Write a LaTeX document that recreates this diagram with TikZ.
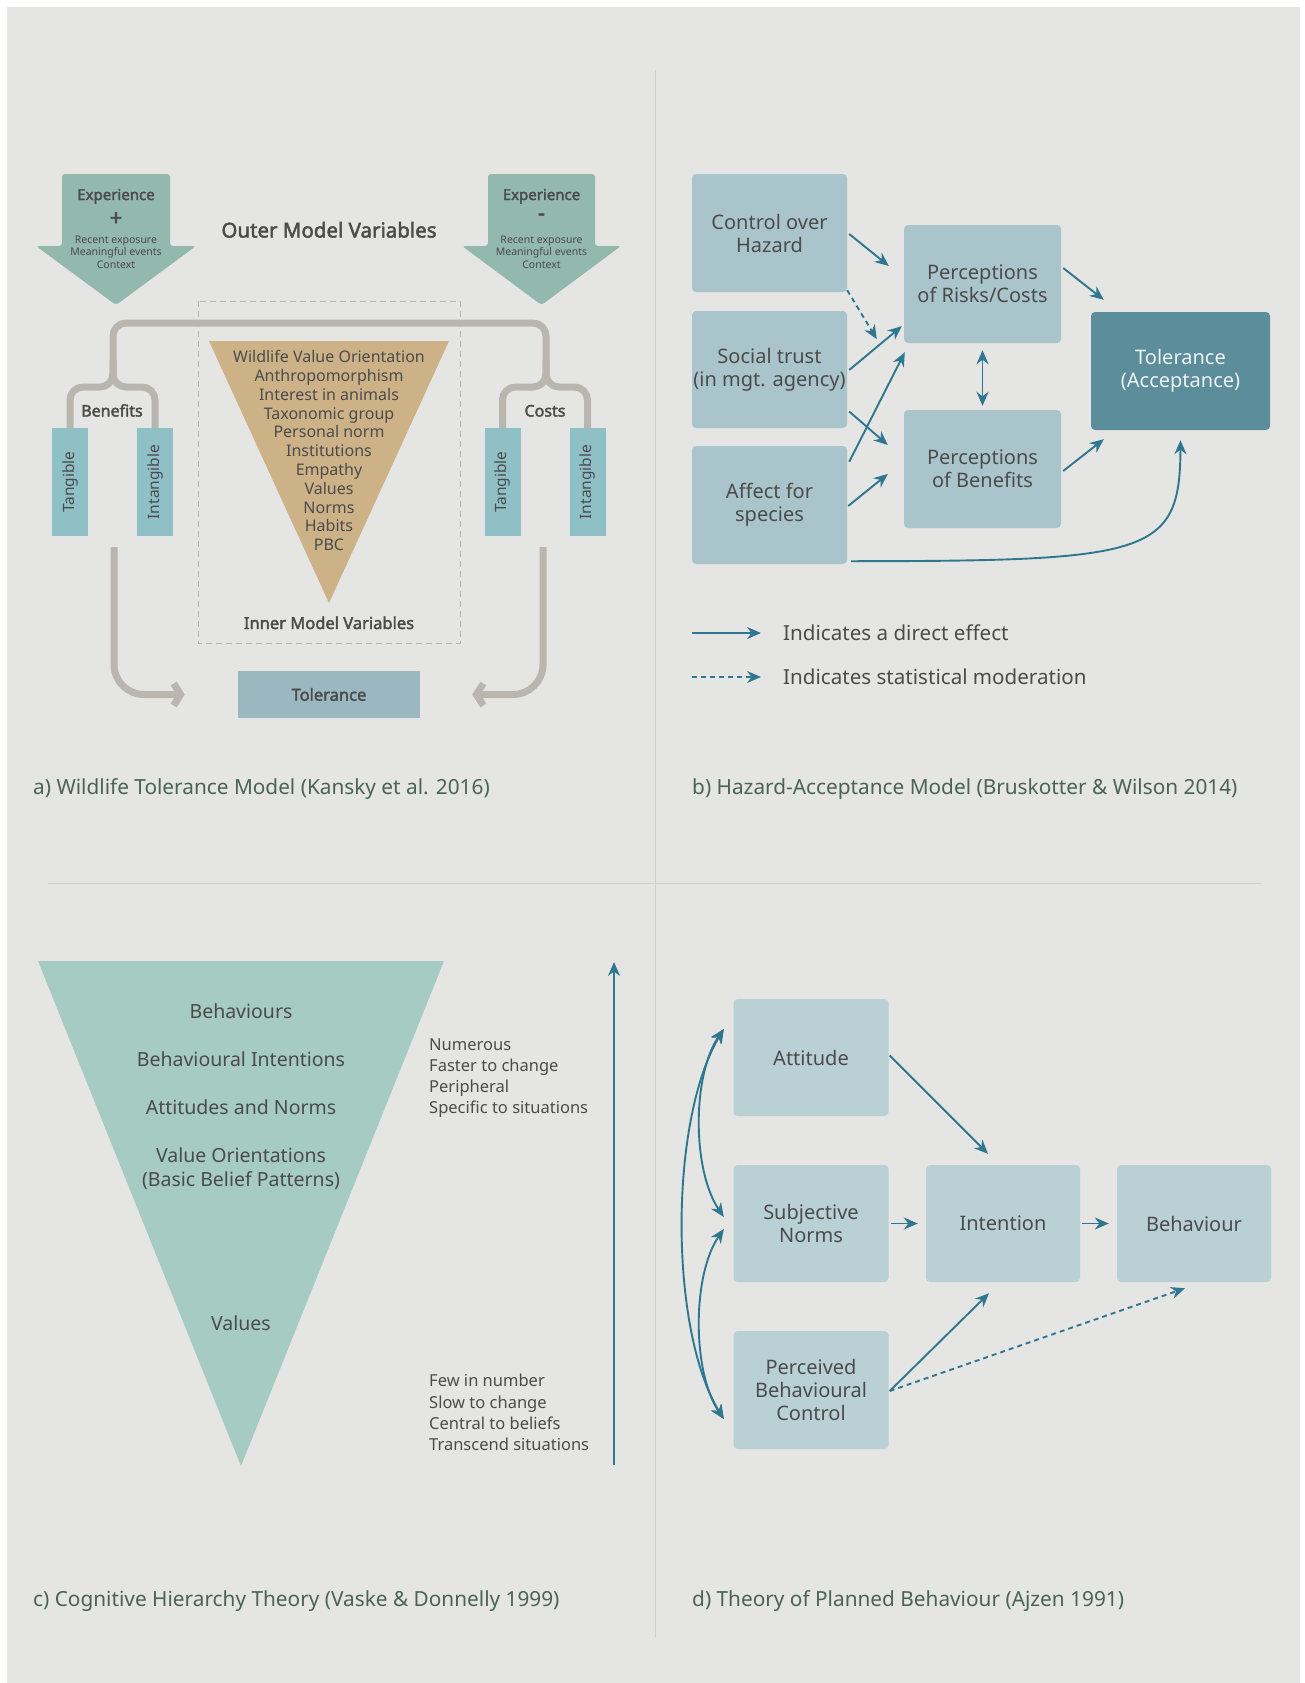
\documentclass[tikz,border=0pt]{standalone}
\usepackage{fontspec}
\setmainfont{Noto Sans}[AutoFakeBold=2.2]
\usetikzlibrary{arrows.meta,calc}
\newcommand{\myfs}[2]{\fontsize{#1}{#2}\selectfont}
\definecolor{bg}{HTML}{E5E5E3}
\definecolor{divc}{HTML}{D0D0CE}
\definecolor{txt}{HTML}{4B4B4B}
\definecolor{capc}{HTML}{4A6258}
\definecolor{boxb}{HTML}{A9C5CB}
\definecolor{boxd}{HTML}{B9D1D5}
\definecolor{tolb}{HTML}{5C8D9B}
\definecolor{tolt}{HTML}{EEF3F4}
\definecolor{arrowc}{HTML}{2F7790}
\definecolor{expc}{HTML}{93B8AE}
\definecolor{tang}{HTML}{8EC0C6}
\definecolor{tanc}{HTML}{CDB287}
\definecolor{grayl}{HTML}{B9B6AF}
\definecolor{tola}{HTML}{9BB7C0}
\definecolor{trig}{HTML}{A5CBC3}
\definecolor{dashc}{HTML}{B3B3B1}
\tikzset{
  panelb/.style={fill=boxb, rounded corners=4pt, minimum width=155pt, minimum height=118pt, align=center, text=txt, font=\myfs{20}{23}, inner sep=0pt},
  paneld/.style={panelb, fill=boxd, minimum height=117pt},
  tarrow/.style={draw=arrowc, line width=1.9pt, -{Stealth[length=14pt,width=12pt]}},
  tdash/.style={tarrow, dash pattern=on 5pt off 4pt},
  tdouble/.style={draw=arrowc, line width=1.9pt, {Stealth[length=14pt,width=12pt]}-{Stealth[length=14pt,width=12pt]}},
  graybar/.style={draw=grayl, line width=7pt, rounded corners=13pt},
  grayarrow/.style={draw=grayl, line width=7pt, rounded corners=30pt, -{Straight Barb[length=7pt,width=22pt]}},
  tangbox/.style={fill=tang, rotate=90, minimum width=108pt, minimum height=36pt, inner sep=0pt, text=txt, font=\myfs{15.5}{18}},
  atext/.style={text=txt, font=\myfs{16}{18.8}, inner sep=0pt, anchor=base},
  abold/.style={text=txt, font=\bfseries\myfs{16}{18}, inner sep=0pt, anchor=base},
  esmall/.style={text=txt, font=\myfs{10.5}{12}, inner sep=0pt, anchor=base},
  captxt/.style={text=capc, font=\myfs{20.8}{23}, anchor=base west, inner sep=0pt},
  ctext/.style={text=txt, font=\myfs{19.5}{23}, inner sep=0pt, align=center, anchor=base},
  legtext/.style={text=txt, font=\myfs{20.6}{23}, inner sep=0pt, anchor=base west},
  rtext/.style={text=txt, font=\myfs{16.5}{18}, anchor=base west, inner sep=0pt},
}
\begin{document}
\begin{tikzpicture}[x=1pt,y=-1pt]
\useasboundingbox (0,0) rectangle (1305,1683);
\fill[white] (0,0) rectangle (1305,1683);
\fill[bg] (7,7) rectangle (1300,1683);
% dividers
\draw[divc, line width=0.8pt] (655,70) -- (655,1637);
\draw[divc, line width=0.8pt] (48,883) -- (1261,883);

% ================= panel a =================
\fill[expc, rounded corners=3pt] (62,174) -- (170,174) -- (170,246) -- (196,246) -- (116,305) -- (36,246) -- (62,246) -- cycle;
\fill[expc, rounded corners=3pt] (488,174) -- (595,174) -- (595,246) -- (621,246) -- (541.5,305) -- (462,246) -- (488,246) -- cycle;
\node[text=txt, font=\bfseries\myfs{15}{16}, inner sep=0pt, anchor=base] (expl) at (116,200) {Experience};
\node[text=txt, font=\bfseries\myfs{22}{22}, inner sep=0pt] (plus) at (116,219) {+};
\node[esmall] (el1) at (116,243) {Recent exposure};
\node[esmall] (el2) at (116,255.5) {Meaningful events};
\node[esmall] (el3) at (116,268) {Context};
\node[text=txt, font=\bfseries\myfs{15}{16}, inner sep=0pt, anchor=base] (expr) at (541.5,200) {Experience};
\node[text=txt, font=\bfseries\myfs{22}{22}, inner sep=0pt] (minus) at (541.5,217) {-};
\node[esmall] (er1) at (541.5,243) {Recent exposure};
\node[esmall] (er2) at (541.5,255.5) {Meaningful events};
\node[esmall] (er3) at (541.5,268) {Context};
\node[text=txt, font=\bfseries\myfs{20.5}{22}, inner sep=0pt, anchor=base] (outer) at (329,237.5) {Outer Model Variables};

% dashed inner frame
\draw[dashc, line width=1pt, dash pattern=on 6pt off 4pt] (198,301) rectangle (460,643);

% brackets
\draw[graybar] (70,428) -- (70,387) -- (113,387) -- (113,323) -- (546,323) -- (546,387) -- (502.5,387) -- (502.5,428);
\draw[graybar] (155,428) -- (155,387) -- (113,387) -- (113,360);
\draw[graybar] (587.5,428) -- (587.5,387) -- (546,387) -- (546,360);
\node[abold] (benefits) at (112,416.5) {Benefits};
\node[abold] (costs) at (545,416.5) {Costs};

\node[tangbox] (tl1) at (70,482) {Tangible};
\node[tangbox] (tl2) at (155,482) {Intangible};
\node[tangbox] (tr1) at (502.5,482) {Tangible};
\node[tangbox] (tr2) at (587.5,482) {Intangible};

% inner triangle
\fill[tanc] (209,341) -- (449,341) -- (329,603) -- cycle;
\foreach \t [count=\i] in {Wildlife Value Orientation, Anthropomorphism, Interest in animals, Taxonomic group, Personal norm, Institutions, Empathy, Values, Norms, Habits, PBC}
  \node[atext] (w\i) at (329,{362.7+18.8*(\i-1)}) {\t};
\node[abold, font=\bfseries\myfs{16.5}{18}] (inner) at (329,629) {Inner Model Variables};

% tolerance
\node[fill=tola, minimum width=182pt, minimum height=47pt, inner sep=0pt, text=txt, font=\bfseries\myfs{16.5}{18}] (tolA) at (329,694.5) {Tolerance};
\coordinate (gl) at (114,547);
\coordinate (gr) at (543,547);
\draw[grayarrow] (gl) -- (114,694.5) -- ([xshift=-53pt]tolA.west);
\draw[grayarrow] (gr) -- (543,694.5) -- ([xshift=52pt]tolA.east);

\node[captxt] (capa) at (33,794.5) {a) Wildlife Tolerance Model (Kansky et al. 2016)};

% ================= panel b =================
\node[panelb] (ctrl) at (769.5,233) {Control over\\Hazard};
\node[panelb, minimum height=117pt] (trust) at (769.5,369.5) {Social trust\\(in mgt. agency)};
\node[panelb] (affect) at (769.5,505) {Affect for\\species};
\node[panelb, minimum width=157pt] (risks) at (982.5,284) {Perceptions\\of Risks/Costs};
\node[panelb, minimum width=157pt] (bene) at (982.5,469) {Perceptions\\of Benefits};
\node[panelb, fill=tolb, text=tolt, minimum width=179pt] (tol) at (1180.5,371) {Tolerance\\(Acceptance)};

\draw[tarrow] ($(ctrl.east)+(2,1)$) -- ($(risks.west)+(-15,-18)$);
\draw[tdash] ($(ctrl.south east)+(0,-2)$) -- ($(risks.south west)+(-27,-4)$);
\draw[tarrow] ($(trust.east)+(2,0.5)$) -- ($(risks.south west)+(-2,-17)$);
\draw[tarrow] ($(trust.east)+(2,42)$) -- ($(bene.west)+(-16,-24)$);
\draw[tarrow] ($(affect.north east)+(2,16)$) -- ($(risks.south west)+(1,9)$);
\draw[tarrow] ($(affect.east)+(1,1)$) -- ($(bene.west)+(-16,5)$);
\draw[tdouble] ($(risks.south)+(0,7)$) -- ($(bene.north)+(0,-4)$);
\draw[tarrow] ($(risks.east)+(2,-16)$) -- ($(tol.north west)+(13,-12)$);
\draw[tarrow] ($(bene.east)+(2,2)$) -- ($(tol.south west)+(13,9)$);
\draw[tarrow] ($(affect.south east)+(4,-3)$) .. controls (1150,561) and (1180,555) .. ($(tol.south)+(0,10)$);

\node[legtext] (leg1) at (783,640.5) {Indicates a direct effect};
\node[legtext] (leg2) at (783,684.5) {Indicates statistical moderation};
\draw[tarrow] ($(leg1.base west)+(-91,-7.5)$) -- ($(leg1.base west)+(-22,-7.5)$);
\draw[tdash] ($(leg2.base west)+(-91,-7.5)$) -- ($(leg2.base west)+(-22,-7.5)$);

\node[captxt] (capb) at (692,794.5) {b) Hazard-Acceptance Model (Bruskotter \& Wilson 2014)};

% ================= panel c =================
\fill[trig] (38,961) -- (444,961) -- (241,1466) -- cycle;
\node[ctext] (c1) at (241,1018) {Behaviours};
\node[ctext] (c2) at (241,1066) {Behavioural Intentions};
\node[ctext] (c3) at (241,1114) {Attitudes and Norms};
\node[ctext] (c4) at (241,1162) {Value Orientations};
\node[ctext] (c5) at (241,1186) {(Basic Belief Patterns)};
\node[ctext] (c6) at (241,1330) {Values};

\node[rtext] (r1) at (429,1050) {Numerous};
\node[rtext] (r2) at (429,1071) {Faster to change};
\node[rtext] (r3) at (429,1092) {Peripheral};
\node[rtext] (r4) at (429,1113) {Specific to situations};
\node[rtext] (r5) at (429,1386) {Few in number};
\node[rtext] (r6) at (429,1408) {Slow to change};
\node[rtext] (r7) at (429,1429) {Central to beliefs};
\node[rtext] (r8) at (429,1450) {Transcend situations};

\coordinate (vbot) at (614,1465);
\coordinate (vtop) at (614,962);
\draw[tarrow] (vbot) -- (vtop);

\node[captxt] (capc) at (33,1606.5) {c) Cognitive Hierarchy Theory (Vaske \& Donnelly 1999)};

% ================= panel d =================
\node[paneld] (att) at (811,1057.5) {Attitude};
\node[paneld] (sn) at (811,1223.5) {Subjective\\Norms};
\node[paneld, minimum height=118pt] (pbc) at (811,1390) {Perceived\\Behavioural\\Control};
\node[paneld, minimum width=154pt] (int) at (1003,1223.5) {Intention};
\node[paneld, minimum width=154pt] (beh) at (1194,1223.5) {Behaviour};

\draw[tarrow] ($(att.east)+(1,-2)$) -- ($(int.north)+(-15,-11)$);
\draw[tarrow] ($(sn.east)+(2,0)$) -- ($(int.west)+(-8,0)$);
\draw[tarrow] ($(int.east)+(2,0)$) -- ($(beh.west)+(-8,0)$);
\draw[tarrow] ($(pbc.east)+(1,1)$) -- ($(int.south)+(-14,11)$);
\draw[tdash] ($(pbc.east)+(1,1)$) -- ($(beh.south)+(-9,6)$);
\draw[tdouble] ($(att.west)+(-9.5,-28.5)$) .. controls (692,1075) and (692,1170) .. ($(sn.west)+(-9.5,-6.5)$);
\draw[tdouble] ($(sn.west)+(-9.5,5.5)$) .. controls (692,1275) and (692,1372) .. ($(pbc.west)+(-9.5,29)$);
\draw[tdouble] ($(att.west)+(-9.5,-28.5)$) .. controls (669,1120) and (669,1330) .. ($(pbc.west)+(-9.5,29)$);

\node[captxt] (capd) at (692,1606.5) {d) Theory of Planned Behaviour (Ajzen 1991)};
\end{tikzpicture}
\end{document}
